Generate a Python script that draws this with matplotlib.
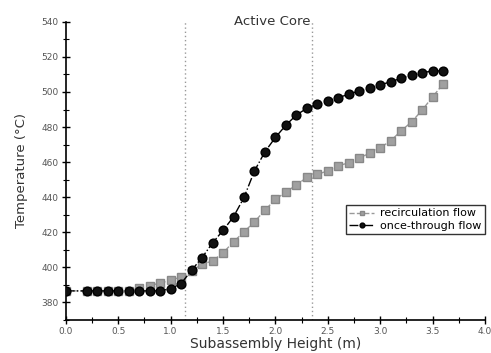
"""Subassembly temperature profile: recirculation vs once-through flow."""

import matplotlib
matplotlib.use("Agg")
import matplotlib.pyplot as plt
from matplotlib.ticker import MultipleLocator


# heights (m)
height = [0.0, 0.2, 0.3, 0.4, 0.5, 0.6, 0.7, 0.8, 0.9, 1.0,
          1.1, 1.2, 1.3, 1.4, 1.5, 1.6, 1.7, 1.8, 1.9, 2.0,
          2.1, 2.2, 2.3, 2.4, 2.5, 2.6, 2.7, 2.8, 2.9, 3.0,
          3.1, 3.2, 3.3, 3.4, 3.5, 3.6]

recirc_temp = [386.5, 386.5, 386.5, 386.5, 386.5, 386.5, 388.0, 389.5, 391.0, 392.5,
               394.5, 398.0, 401.7, 403.6, 408.2, 414.5, 420.2, 425.9, 432.6, 438.7,
               443.0, 446.9, 451.3, 453.0, 455.0, 457.9, 459.6, 462.5, 465.0, 468.2,
               472.2, 477.9, 483.0, 489.7, 497.3, 504.6]

once_temp = [386.5, 386.5, 386.5, 386.5, 386.5, 386.5, 386.5, 386.5, 386.5, 387.8,
             390.7, 398.3, 405.5, 413.9, 421.0, 428.8, 439.8, 455.0, 465.9, 474.1,
             481.1, 486.9, 490.7, 493.1, 495.0, 496.8, 498.7, 500.7, 502.1, 504.0,
             505.9, 507.8, 509.7, 511.0, 512.0, 512.0]

core_bounds = [1.14, 2.35]


def main():
    fig = plt.figure(figsize=(4.91, 3.53), dpi=100)
    ax = fig.add_axes([0.134, 0.094, 0.854, 0.844])

    for xb in core_bounds:
        ax.axvline(xb, color="#999999", linestyle=(0, (1, 2)), linewidth=1.0, zorder=1)

    ax.plot(height, recirc_temp, color="#999999", linestyle="--", linewidth=1.0,
            marker="s", markersize=5.2, markerfacecolor="#a0a0a0",
            markeredgecolor="#888888", label="recirculation flow", zorder=2)
    ax.plot(height, once_temp, color="black", linestyle="-.", linewidth=1.0,
            marker="o", markersize=6.3, markerfacecolor="#111111",
            markeredgecolor="black", label="once-through flow", zorder=3)

    ax.text(1.6, 540, "Active Core", fontsize=9.5, color="#333333", va="center")

    ax.set_xlim(0, 4.0)
    ax.set_ylim(370, 540)
    ax.xaxis.set_major_locator(MultipleLocator(0.5))
    ax.xaxis.set_minor_locator(MultipleLocator(0.25))
    ax.yaxis.set_major_locator(MultipleLocator(20))
    ax.yaxis.set_minor_locator(MultipleLocator(10))
    ax.xaxis.set_major_formatter(plt.FuncFormatter(lambda v, p: f"{v:.1f}"))

    for side in ("top", "right"):
        ax.spines[side].set_visible(False)
    for side in ("left", "bottom"):
        ax.spines[side].set_linewidth(1.2)

    ax.tick_params(which="major", direction="inout", length=6, width=1,
                   labelsize=6.5, labelcolor="#555555", pad=2)
    ax.tick_params(axis="x", which="major", pad=2.5)
    ax.tick_params(which="minor", direction="inout", length=4, width=0.8)

    ax.set_xlabel("Subassembly Height (m)", fontsize=10, color="#333333", labelpad=0.5)
    ax.set_ylabel("Temperature (\u00b0C)", fontsize=9.5, color="#333333", labelpad=10)

    leg = ax.legend(loc="upper right", bbox_to_anchor=(1.0, 0.385), fontsize=8,
                    frameon=True, fancybox=False, borderpad=0.3, labelspacing=0.2,
                    handlelength=2.2, handletextpad=0.6, borderaxespad=0,
                    markerscale=0.55)
    leg.get_frame().set_edgecolor("black")
    leg.get_frame().set_linewidth(1.0)

    fig.savefig("out.png", dpi=100)
    plt.close(fig)


if __name__ == "__main__":
    main()
